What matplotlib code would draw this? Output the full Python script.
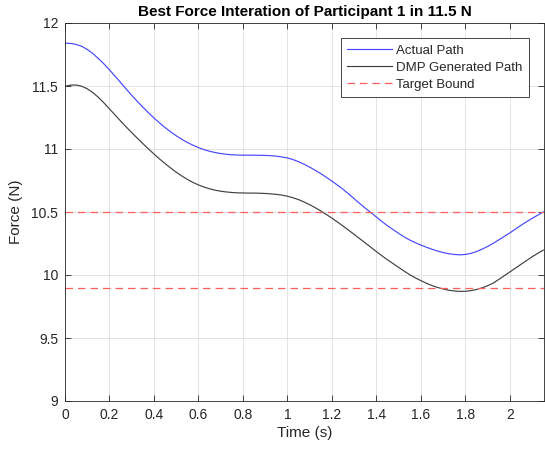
import matplotlib
matplotlib.use("Agg")
import matplotlib.pyplot as plt
import numpy as np

plt.rcParams['font.family'] = ['Liberation Sans', 'DejaVu Sans']

time_s = list(np.round(np.arange(0, 87) * 0.025, 3))

actual_path = [11.840, 11.838, 11.830, 11.815, 11.790, 11.758, 11.718, 11.675, 11.628, 11.578,
               11.527, 11.476, 11.426, 11.378, 11.332, 11.288, 11.246, 11.207, 11.170, 11.136,
               11.105, 11.077, 11.052, 11.030, 11.011, 10.995, 10.982, 10.972, 10.964, 10.958,
               10.954, 10.952, 10.951, 10.951, 10.951, 10.950, 10.949, 10.947, 10.943, 10.937,
               10.929, 10.916, 10.899, 10.879, 10.856, 10.831, 10.804, 10.775, 10.745, 10.713,
               10.680, 10.643, 10.605, 10.567, 10.530, 10.495, 10.460, 10.424, 10.390, 10.360,
               10.330, 10.302, 10.277, 10.256, 10.237, 10.220, 10.204, 10.190, 10.178, 10.169,
               10.163, 10.160, 10.163, 10.172, 10.186, 10.205, 10.227, 10.252, 10.279, 10.307,
               10.335, 10.365, 10.395, 10.423, 10.450, 10.475, 10.500]

dmp_path = [11.497, 11.507, 11.508, 11.498, 11.478, 11.448, 11.410, 11.366, 11.318, 11.270,
            11.222, 11.175, 11.130, 11.086, 11.043, 11.001, 10.960, 10.921, 10.884, 10.849,
            10.816, 10.786, 10.759, 10.735, 10.715, 10.698, 10.684, 10.673, 10.665, 10.659,
            10.655, 10.652, 10.651, 10.650, 10.650, 10.649, 10.647, 10.644, 10.640, 10.634,
            10.625, 10.613, 10.598, 10.579, 10.558, 10.534, 10.508, 10.480, 10.451, 10.420,
            10.388, 10.355, 10.322, 10.288, 10.254, 10.220, 10.185, 10.152, 10.120, 10.090,
            10.060, 10.030, 10.002, 9.977, 9.955, 9.934, 9.916, 9.901, 9.889, 9.879,
            9.873, 9.870, 9.871, 9.876, 9.885, 9.898, 9.915, 9.936, 9.965, 9.995,
            10.025, 10.055, 10.085, 10.115, 10.145, 10.172, 10.198]

upper_bound = 10.5
lower_bound = 9.9

x_ticks = [0, 0.2, 0.4, 0.6, 0.8, 1, 1.2, 1.4, 1.6, 1.8, 2]
x_tick_labels = ['0', '0.2', '0.4', '0.6', '0.8', '1', '1.2', '1.4', '1.6', '1.8', '2']
y_ticks = [9, 9.5, 10, 10.5, 11, 11.5, 12]
y_tick_labels = ['9', '9.5', '10', '10.5', '11', '11.5', '12']

fig = plt.figure(figsize=(5.45, 4.51), dpi=100)
ax = fig.add_axes([65/545, 1 - 401/451, 479/545, 378/451])

axc = '#262626'
ax.plot(time_s, actual_path, color='#4747ff', lw=0.85, label='Actual Path')
ax.plot(time_s, dmp_path, color='#404040', lw=0.85, label='DMP Generated Path')
ax.axhline(upper_bound, color='#ff5c5c', lw=0.9, ls=(0, (6, 4)), label='Target Bound')
ax.axhline(lower_bound, color='#ff5c5c', lw=0.9, ls=(0, (6, 4)))

ax.set_xlim(0, 2.153)
ax.set_ylim(9, 12)
ax.set_xticks(x_ticks)
ax.set_xticklabels(x_tick_labels)
ax.set_yticks(y_ticks)
ax.set_yticklabels(y_tick_labels)
ax.grid(True, color='#e3e3e3', lw=0.7)
ax.set_axisbelow(True)
ax.tick_params(direction='in', length=4, width=0.6, colors=axc, labelsize=10,
               top=True, right=True, labelcolor=axc, pad=5)
for s in ax.spines.values():
    s.set_color(axc)
    s.set_linewidth(0.6)

ax.set_xlabel('Time (s)', fontsize=11, color=axc, labelpad=3)
ax.set_ylabel('Force (N)', fontsize=11, color=axc, labelpad=6)
ax.set_title('Best Force Interation of Participant 1 in 11.5 N', fontsize=11,
             fontweight='bold', color='black', pad=5)

leg = ax.legend(loc='upper right', bbox_to_anchor=(0.969, 0.96), fontsize=9.5,
                frameon=True, fancybox=False, framealpha=1, edgecolor=axc,
                handlelength=3.4, handletextpad=0.3, borderpad=0.5,
                labelspacing=0.35, borderaxespad=0)
leg.get_frame().set_linewidth(0.6)
for t in leg.get_texts():
    t.set_color(axc)

fig.savefig('out.png', dpi=100)
